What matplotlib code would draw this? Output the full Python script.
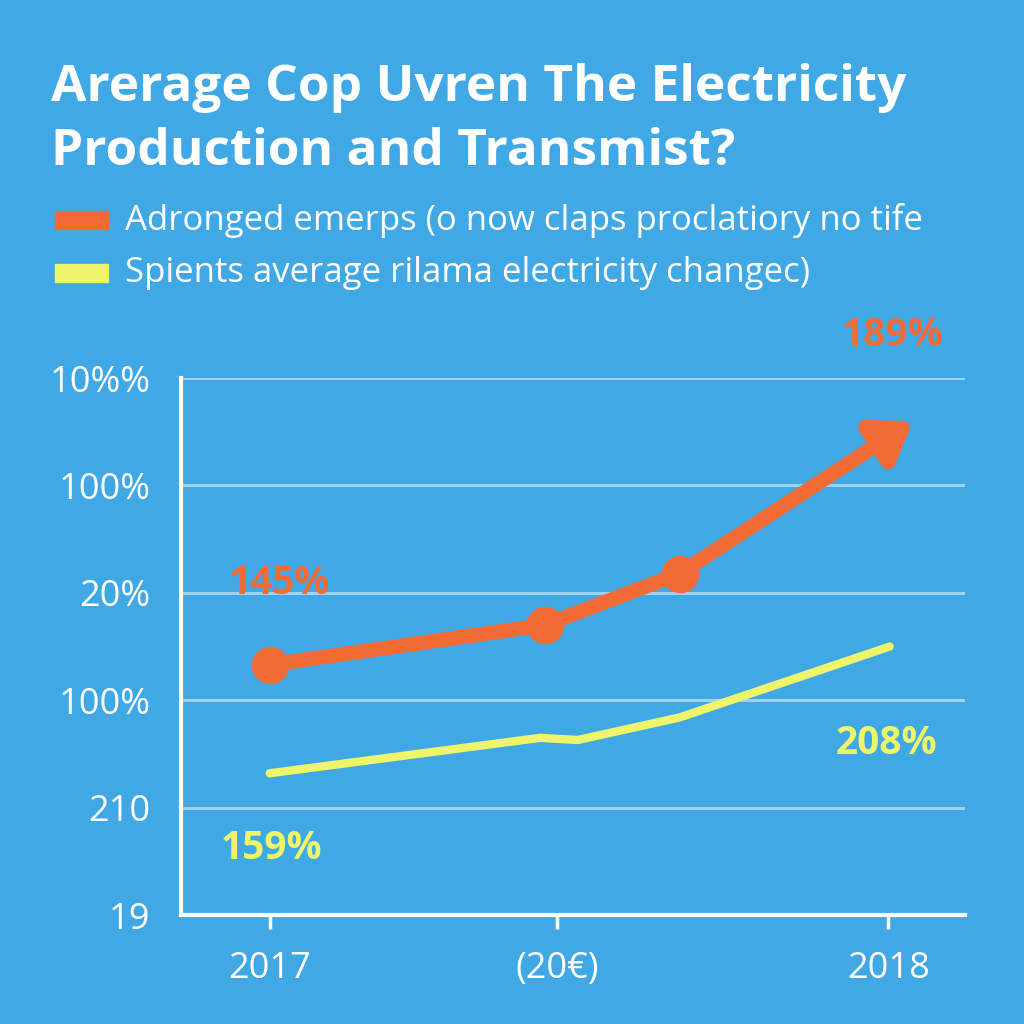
import matplotlib.pyplot as plt
from matplotlib.patches import Rectangle

bg = "#41a8e6"
orange = "#f26b35"
yellow = "#eef56a"
grid_c = "#9fd2f2"

title = "Arerage Cop Uvren The Electricity\nProduction and Transmist?"
legend_labels = ["Adronged emerps (o now claps proclatiory no tife",
                 "Spients average rilama electricity changec)"]

y_ticks = [0, 1, 2, 3, 4, 5]
y_labels = ["19", "210", "100%", "20%", "100%", "10%%"]
x_ticks = [0, 3.67, 7.89]
x_labels = ["2017", "(20€)", "2018"]

orange_x = [0, 3.51, 5.23]
orange_y = [2.33, 2.70, 3.18]
orange_tip = (8.21, 4.6)

yellow_x = [0, 3.45, 3.93, 5.23, 7.91]
yellow_y = [1.32, 1.65, 1.63, 1.84, 2.50]

# value labels: text, x, y, colour
notes = [("145%", 0.13, 3.09, orange), ("189%", 7.95, 5.4, orange),
         ("159%", 0.02, 0.62, yellow), ("208%", 7.87, 1.6, yellow)]

plt.rcParams["font.family"] = ["Open Sans", "DejaVu Sans"]

fig = plt.figure(figsize=(10.24, 10.24), dpi=100, facecolor=bg)
ax = fig.add_axes([0.1768, 0.1064, 0.7656, 0.5244], facecolor=bg)

fig.text(0.05, 0.9385, title, color="white", fontsize=37, fontweight="bold",
         va="top", ha="left", linespacing=1.38)

for i, (lab, col) in enumerate(zip(legend_labels, [orange, yellow])):
    yc = 1 - (220 + 53 * i) / 1024
    fig.patches.append(Rectangle((55 / 1024, yc - 9 / 1024), 53 / 1024, 18 / 1024,
                                 transform=fig.transFigure, color=col))
    fig.text(125 / 1024, yc, lab, color="white", fontsize=25, va="center", ha="left")

ax.set_xlim(-1.13, 8.87)
ax.set_ylim(0, 5)

for y in y_ticks[1:]:
    ax.axhline(y, color=grid_c, lw=2.2, zorder=1)

ax.plot(yellow_x, yellow_y, color=yellow, lw=6, solid_capstyle="round", zorder=3)
ax.plot(orange_x, orange_y, color=orange, lw=10.5, marker="o", markersize=26, zorder=4)
ax.annotate("", xy=orange_tip, xytext=(orange_x[-1], orange_y[-1]),
            arrowprops=dict(arrowstyle="-|>,head_length=2.2,head_width=1.5",
                            color=orange, lw=10.5, shrinkA=0, shrinkB=0), zorder=4)

for txt, x, y, col in notes:
    ax.text(x, y, txt, color=col, fontsize=28, fontweight="bold",
            ha="center", va="center", clip_on=False)

for s in ["top", "right"]:
    ax.spines[s].set_visible(False)
for s in ["left", "bottom"]:
    ax.spines[s].set_color("white")
    ax.spines[s].set_linewidth(3)

ax.set_yticks(y_ticks)
ax.set_yticklabels(y_labels)
ax.set_xticks(x_ticks)
ax.set_xticklabels(x_labels)
ax.tick_params(axis="y", length=0, pad=22, labelsize=26, labelcolor="white")
ax.tick_params(axis="x", length=10, width=2.5, color="white", pad=16,
               labelsize=26, labelcolor="white")

fig.savefig("out.png", dpi=100, facecolor=bg)
